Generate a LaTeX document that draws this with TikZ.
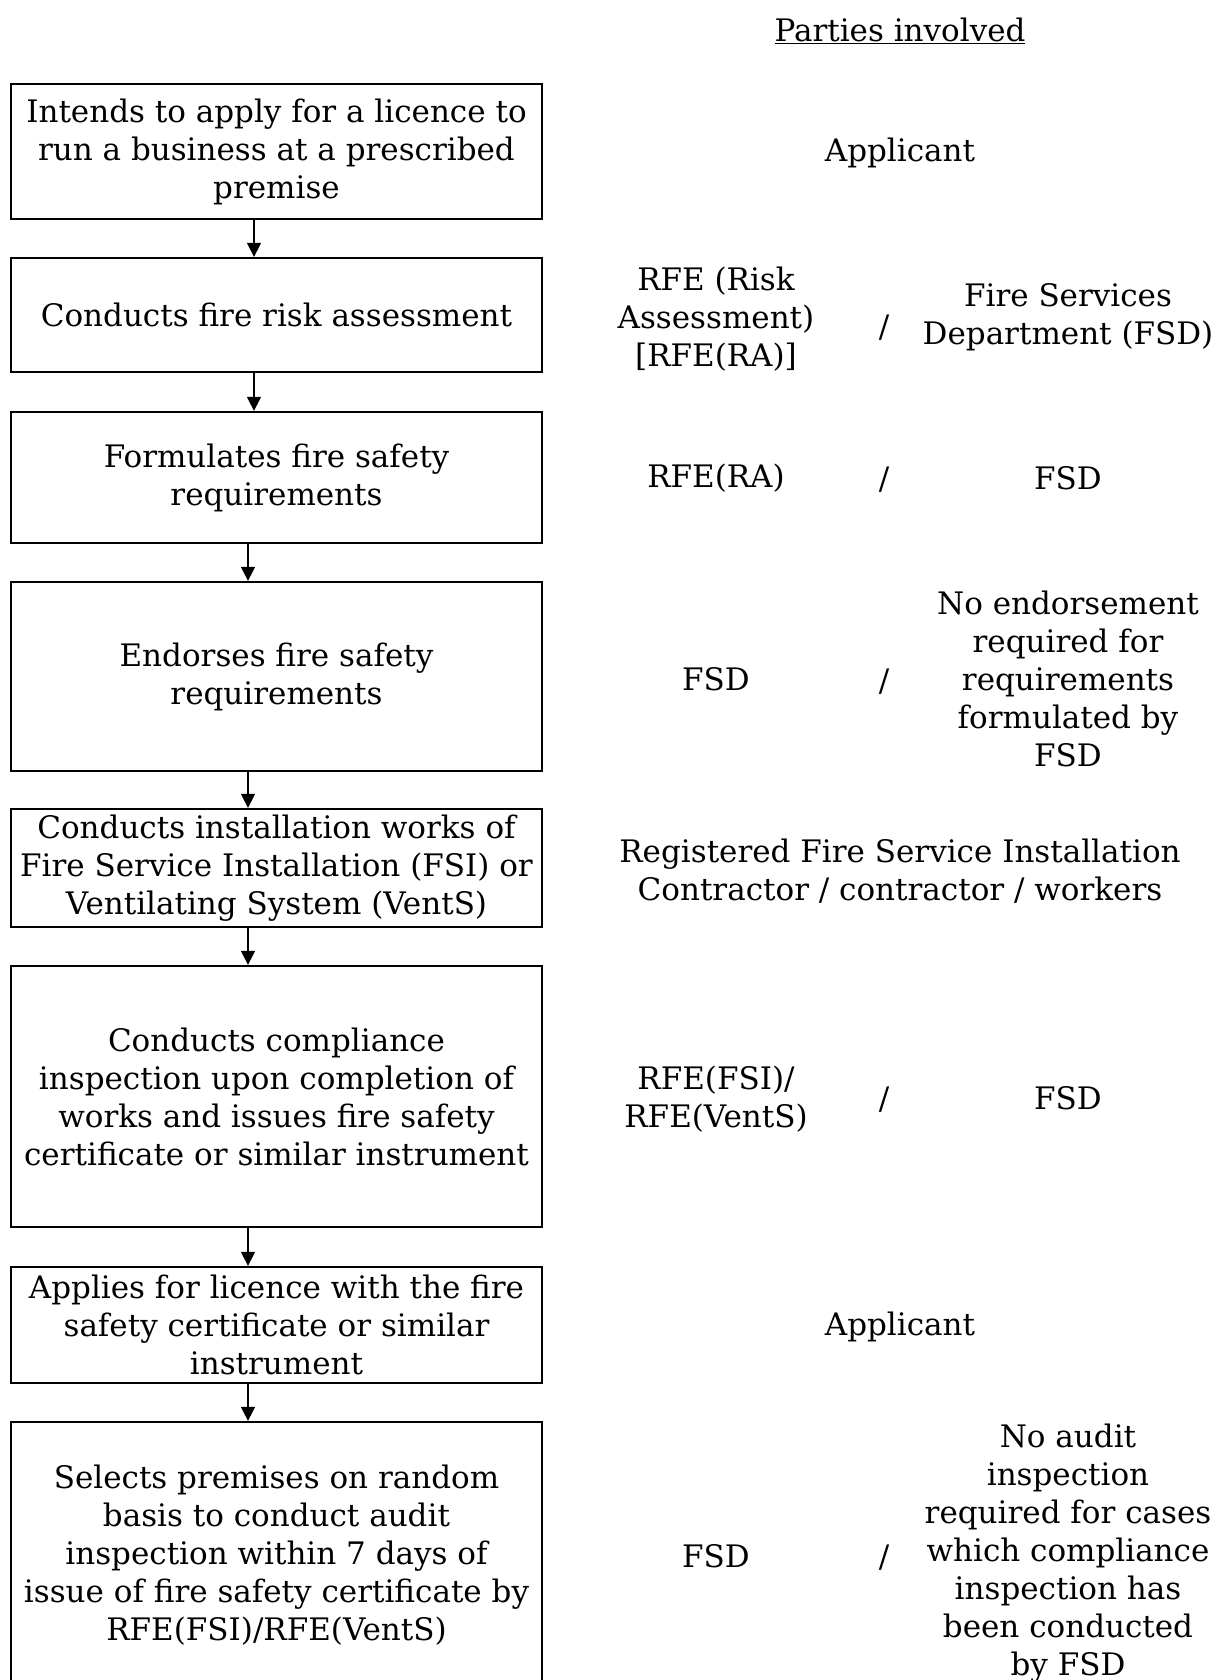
\documentclass[tikz,border=0pt]{standalone}
\usepackage{fontspec}
\setmainfont{DejaVu Serif}
\usetikzlibrary{arrows.meta}
\begin{document}
\begin{tikzpicture}[x=1pt,y=-1pt,
  every node/.style={font=\fontsize{31}{38}\selectfont, align=center, inner sep=0pt},
  stepbox/.style={draw, line width=2.3pt, minimum width=531pt},
  flow/.style={line width=1.5pt, -{Triangle[length=14pt,width=14pt]}},
  ]
\useasboundingbox (0,0) rectangle (1213,1680);
\clip (0,0) rectangle (1213,1680);
% flow boxes
\node[stepbox, minimum height=135pt] (b1) at (276.5,151.5) {Intends to apply for a licence to\\run a business at a prescribed\\premise};
\node[stepbox, minimum height=114pt] (b2) at (276.5,315) {Conducts fire risk assessment};
\node[stepbox, minimum height=131pt] (b3) at (276.5,477.5) {Formulates fire safety\\requirements};
\node[stepbox, minimum height=189pt] (b4) at (276.5,676.5) {Endorses fire safety\\requirements};
\node[stepbox, minimum height=118pt] (b5) at (276.5,868) {Conducts installation works of\\Fire Service Installation (FSI) or\\Ventilating System (VentS)};
\node[stepbox, minimum height=261pt] (b6) at (276.5,1096.5) {Conducts compliance\\inspection upon completion of\\works and issues fire safety\\certificate or similar instrument};
\node[stepbox, minimum height=116pt] (b7) at (276.5,1325) {Applies for licence with the fire\\safety certificate or similar\\instrument};
\node[stepbox, minimum height=266pt] (b8) at (276.5,1555) {Selects premises on random\\basis to conduct audit\\inspection within 7 days of\\issue of fire safety certificate by\\RFE(FSI)/RFE(VentS)};
% arrow columns
\coordinate (ax1) at (254,0);
\coordinate (ax2) at (248,0);
\draw[flow] (b1.south -| ax1) -- (b2.north -| ax1);
\draw[flow] (b2.south -| ax1) -- (b3.north -| ax1);
\draw[flow] (b3.south -| ax2) -- (b4.north -| ax2);
\draw[flow] (b4.south -| ax2) -- (b5.north -| ax2);
\draw[flow] (b5.south -| ax2) -- (b6.north -| ax2);
\draw[flow] (b6.south -| ax2) -- (b7.north -| ax2);
\draw[flow] (b7.south -| ax2) -- (b8.north -| ax2);
% parties column
\node (hdr) at (900,31) {\underline{Parties involved}};
\node (p1) at (900,153) {Applicant};
\node (p2a) at (716,319) {RFE (Risk\\Assessment)\\{}[RFE(RA)]};
\node (p2s) at (884,328) {/};
\node (p2b) at (1068,317) {Fire Services\\Department (FSD)};
\node (p3a) at (716,478) {RFE(RA)};
\node (p3s) at (884,480) {/};
\node (p3b) at (1068,478) {FSD};
\node (p4a) at (716,679) {FSD};
\node (p4s) at (884,682) {/};
\node (p4b) at (1068,679) {No endorsement\\required for\\requirements\\formulated by\\FSD};
\node (p5) at (900,871) {Registered Fire Service Installation\\Contractor / contractor / workers};
\node (p6a) at (716,1099) {RFE(FSI)/\\RFE(VentS)};
\node (p6s) at (884,1100) {/};
\node (p6b) at (1068,1098) {FSD};
\node (p7) at (900,1327) {Applicant};
\node (p8a) at (716,1556) {FSD};
\node (p8s) at (884,1558) {/};
\node (p8b) at (1068,1553) {No audit\\inspection\\required for cases\\which compliance\\inspection has\\been conducted\\by FSD};
\end{tikzpicture}
\end{document}
